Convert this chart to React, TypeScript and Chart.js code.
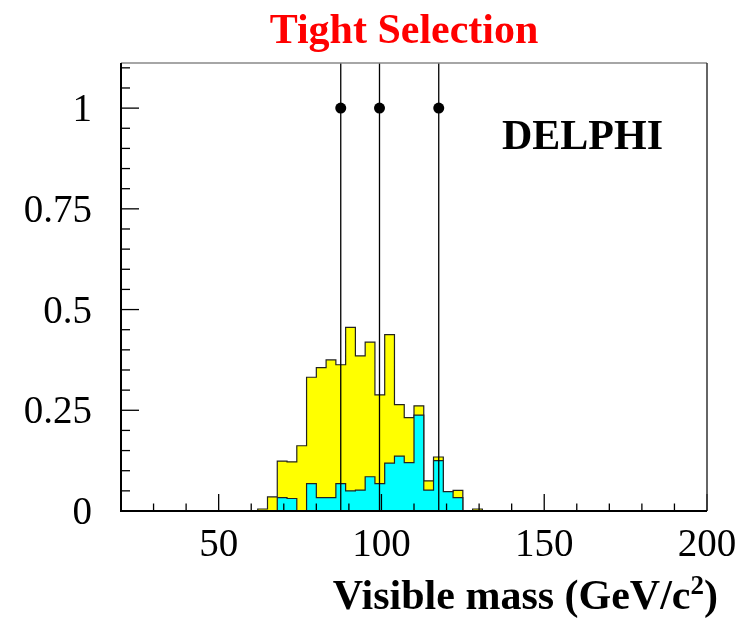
import React, { useEffect, useRef } from "react";
import { Chart, registerables } from "chart.js";

Chart.register(...registerables);

// ---- data ----
const binWidth = 3; // GeV
const binLowEdges = [59, 62, 65, 68, 71, 74, 77, 80, 83, 86, 89, 92, 95, 98, 101, 104, 107, 110, 113, 116, 119, 122, 125, 128, 131];
const totalValues = [0, 0.005, 0.035, 0.124, 0.122, 0.162, 0.332, 0.356, 0.375, 0.363, 0.456, 0.385, 0.419, 0.288, 0.438, 0.264, 0.232, 0.261, 0.075, 0.134, 0.048, 0.051, 0, 0.005, 0];
const cyanValues = [0, 0, 0, 0.033, 0.031, 0, 0.068, 0.033, 0.033, 0.068, 0.05, 0.052, 0.085, 0.068, 0.119, 0.136, 0.12, 0.238, 0.052, 0.125, 0.048, 0.033, 0, 0, 0];
const markerMasses = [87.5, 99.4, 117.6];
const markerLevel = 1;

const xMin = 20;
const xMax = 200;
const yMin = 0;
const yMax = 1.112;

const xMajorTicks = [50, 100, 150, 200];
const xTickLabels = ["50", "100", "150", "200"];
const xMinorTicks = [20, 30, 40, 60, 70, 80, 90, 110, 120, 130, 140, 160, 170, 180, 190];
const yMajorTicks = [0, 0.25, 0.5, 0.75, 1];
const yTickLabels = ["0", "0.25", "0.5", "0.75", "1"];
const yMinorTicks = [0.05, 0.1, 0.15, 0.2, 0.3, 0.35, 0.4, 0.45, 0.55, 0.6, 0.65, 0.7, 0.8, 0.85, 0.9, 0.95, 1.05, 1.1];

const titleText = "Tight Selection";
const xTitleMain = "Visible mass (GeV/c";
const xTitleSup = "2";
const xTitleEnd = ")";
const experimentLabel = "DELPHI";

const SERIF = "'Liberation Serif', 'Times New Roman', serif";

function histPoints(values: number[]) {
  const pts: { x: number; y: number }[] = [{ x: xMin, y: 0 }];
  binLowEdges.forEach((e, i) => pts.push({ x: e, y: values[i] }));
  pts.push({ x: binLowEdges[binLowEdges.length - 1] + binWidth, y: 0 });
  pts.push({ x: xMax, y: 0 });
  return pts;
}

const decorPlugin = {
  id: "decor",
  afterDatasetsDraw(chart: any) {
    const ctx = chart.ctx;
    const xs = chart.scales.x;
    const ys = chart.scales.y;
    const { left, right, top, bottom } = chart.chartArea;
    ctx.save();
    // ticks (pointing inwards)
    ctx.strokeStyle = "#000";
    ctx.lineWidth = 1.3;
    const vTick = (v: number, len: number) => {
      const px = xs.getPixelForValue(v);
      ctx.beginPath();
      ctx.moveTo(px, bottom);
      ctx.lineTo(px, bottom - len);
      ctx.stroke();
    };
    const hTick = (v: number, len: number) => {
      const py = ys.getPixelForValue(v);
      ctx.beginPath();
      ctx.moveTo(left, py);
      ctx.lineTo(left + len, py);
      ctx.stroke();
    };
    xMinorTicks.forEach((v) => vTick(v, 7.5));
    xMajorTicks.forEach((v) => vTick(v, 17));
    yMinorTicks.forEach((v) => hTick(v, 9));
    yMajorTicks.forEach((v) => hTick(v, 18));

    // frame
    ctx.lineWidth = 1.5;
    ctx.strokeStyle = "#888";
    ctx.beginPath();
    ctx.moveTo(left, top);
    ctx.lineTo(right, top);
    ctx.stroke();
    ctx.strokeStyle = "#333";
    ctx.beginPath();
    ctx.moveTo(right, top);
    ctx.lineTo(right, bottom);
    ctx.stroke();
    ctx.strokeStyle = "#000";
    ctx.lineWidth = 2;
    ctx.beginPath();
    ctx.moveTo(left, top);
    ctx.lineTo(left, bottom);
    ctx.lineTo(right, bottom);
    ctx.stroke();
    ctx.restore();
  },
  afterDraw(chart: any) {
    const ctx = chart.ctx;
    const xs = chart.scales.x;
    const ys = chart.scales.y;
    ctx.save();
    ctx.fillStyle = "#000";
    // tick labels
    ctx.font = `39px ${SERIF}`;
    ctx.textBaseline = "alphabetic";
    ctx.textAlign = "right";
    yMajorTicks.forEach((v, i) => {
      ctx.fillText(yTickLabels[i], 92, ys.getPixelForValue(v) + 13);
    });
    ctx.textAlign = "center";
    xMajorTicks.forEach((v, i) => {
      ctx.fillText(xTickLabels[i], xs.getPixelForValue(v), 556);
    });

    // title
    ctx.font = `bold 42px ${SERIF}`;
    ctx.fillStyle = "#ff0000";
    ctx.textAlign = "center";
    ctx.fillText(titleText, 404, 43);

    // experiment label
    ctx.fillStyle = "#000";
    ctx.textAlign = "left";
    ctx.fillText(experimentLabel, 502, 149);

    // x-axis title with superscript
    const mainFont = `bold 42px ${SERIF}`;
    const supFont = `bold 27px ${SERIF}`;
    ctx.font = mainFont;
    const wMain = ctx.measureText(xTitleMain).width;
    const wEnd = ctx.measureText(xTitleEnd).width;
    ctx.font = supFont;
    const wSup = ctx.measureText(xTitleSup).width;
    const rightEdge = 718;
    const baseY = 609;
    let x0 = rightEdge - (wMain + wSup + wEnd);
    ctx.textAlign = "left";
    ctx.font = mainFont;
    ctx.fillText(xTitleMain, x0, baseY);
    x0 += wMain;
    ctx.font = supFont;
    ctx.fillText(xTitleSup, x0, baseY - 15);
    x0 += wSup;
    ctx.font = mainFont;
    ctx.fillText(xTitleEnd, x0, baseY);
    ctx.restore();
  },
};

export default function App() {
  const ref = useRef<HTMLCanvasElement | null>(null);
  useEffect(() => {
    if (!ref.current) return;
    const markerLines = markerMasses.map((m) => ({
      type: "line" as const,
      data: [
        { x: m, y: yMin },
        { x: m, y: yMax },
      ],
      borderColor: "#000",
      borderWidth: 1.3,
      pointRadius: 0,
      fill: false,
      order: 0,
    }));
    const chart = new Chart(ref.current, {
      type: "line",
      data: {
        datasets: [
          ...markerLines,
          {
            type: "line",
            data: markerMasses.map((m) => ({ x: m, y: markerLevel })),
            showLine: false,
            pointRadius: 5.5,
            pointBackgroundColor: "#000",
            pointBorderWidth: 0,
            order: -1,
          },
          {
            type: "line",
            data: histPoints(cyanValues),
            stepped: "before",
            fill: "origin",
            backgroundColor: "#00ffff",
            borderColor: "#222",
            borderWidth: 1.2,
            pointRadius: 0,
            order: 1,
          },
          {
            type: "line",
            data: histPoints(totalValues),
            stepped: "before",
            fill: "origin",
            backgroundColor: "#ffff00",
            borderColor: "#222",
            borderWidth: 1.2,
            pointRadius: 0,
            order: 2,
          },
        ] as any,
      },
      options: {
        responsive: false,
        animation: false,
        events: [],
        layout: { padding: { left: 121, right: 48, top: 63, bottom: 110 } },
        scales: {
          x: { type: "linear", min: xMin, max: xMax, display: false },
          y: { type: "linear", min: yMin, max: yMax, display: false },
        },
        plugins: {
          legend: { display: false },
          tooltip: { enabled: false },
          title: { display: false },
        },
      },
      plugins: [decorPlugin],
    });
    return () => chart.destroy();
  }, []);
  return (
    <div style={{ position: "fixed", left: 0, top: 0, width: 755, height: 621, background: "#fff" }}>
      <canvas ref={ref} width={755} height={621} style={{ width: 755, height: 621, display: "block" }} />
    </div>
  );
}
